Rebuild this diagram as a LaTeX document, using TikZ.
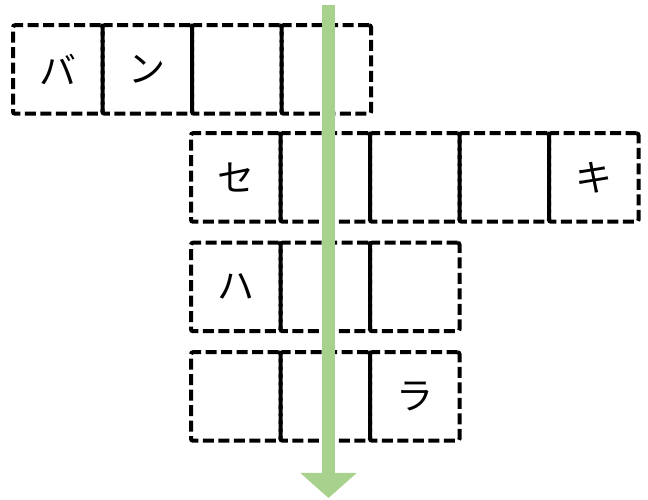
\documentclass[tikz,border=0pt]{standalone}
\usepackage{fontspec}
\newfontfamily\jpfont{Noto Sans CJK JP}
\usepackage{xcolor}
\usetikzlibrary{arrows.meta,positioning}
\definecolor{flowgreen}{HTML}{A9D18E}

\begin{document}
\begin{tikzpicture}[x=1pt, y=1pt, node distance=0pt]
    \tikzstyle{cell} = [rectangle, draw=black, line width=4pt, dash pattern=on 11pt off 4.5pt, rounded corners=2pt, minimum width=89.5pt, minimum height=88.5pt, inner sep=0pt, outer sep=0pt, font=\jpfont\fontsize{37}{37}\selectfont]
    \tikzstyle{flow} = [-{Triangle[width=55pt,length=25pt]}, line width=13pt, draw=flowgreen]

    \useasboundingbox (0,0) rectangle (648,500);

    % first word
    \node [cell] (ban1) at (57.75,430.5) {バ};
    \node [cell, right=of ban1] (ban2) {ン};
    \node [cell, right=of ban2] (ban3) {};
    \node [cell, right=of ban3] (ban4) {};

    % second word
    \node [cell] (sek1) at (235.75,322.5) {セ};
    \node [cell, right=of sek1] (sek2) {};
    \node [cell, right=of sek2] (sek3) {};
    \node [cell, right=of sek3] (sek4) {};
    \node [cell, right=of sek4] (sek5) {キ};

    % third word
    \node [cell] (ha1) at (235.75,213) {ハ};
    \node [cell, right=of ha1] (ha2) {};
    \node [cell, right=of ha2] (ha3) {};

    % fourth word
    \node [cell] (ra1) at (235.75,103.5) {};
    \node [cell, right=of ra1] (ra2) {};
    \node [cell, right=of ra2] (ra3) {ラ};

    \coordinate (top) at (328.5,495);
    \coordinate (bottom) at (328.5,2);
    \draw [flow] (top) -- (bottom);
\end{tikzpicture}
\end{document}
